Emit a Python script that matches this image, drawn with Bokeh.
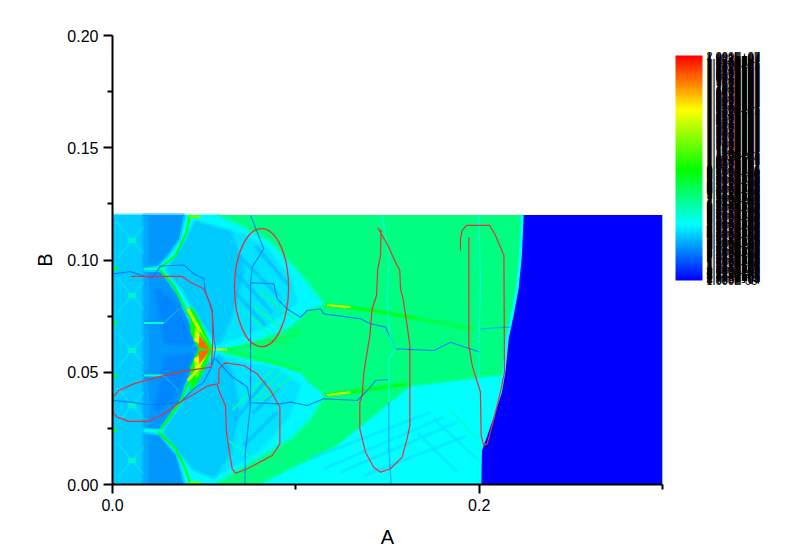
from bokeh.plotting import figure
from bokeh.models import ColumnDataSource, LinearColorMapper, ColorBar, FixedTicker, NumeralTickFormatter, AllLabels
from bokeh.transform import transform
from bokeh.embed import file_html
from bokeh.resources import INLINE

FONT = "Liberation Sans"

# ---- field regions: (level on the 0..1 colour scale, alpha, soft edge width, A values, B values)
base_A = [0, 0.3, 0.3, 0]
base_B = [0, 0, 0.12, 0.12]
wedge_A = [.0807, .1216, .1625, .2135, .21, .0807]
wedge_B = [0, .0165, .0434, .0486, 0, 0]
fan_A = [0, .0571, .0716, .0862, .1025, .1153, .1062, .1025, .0953, .0807, .0698, .0553, .0625, .088, .1025, .1062, .1153, .108, .0971, .0753, .0553, 0]
fan_B = [.12, .12, .1146, .1079, .0938, .0805, .078, .0745, .0693, .0649, .0619, .0601, .0575, .053, .0493, .0456, .0396, .0292, .0203, .0099, 0, 0]
strip_A = [0, .0171, .0171, 0]
strip_B = [0, 0, .12, .12]
lobe_up_A = [.0453, .0716, .0844, .0971, .1007, .0844, .0716, .058, .048, .0371, .0298, .0398]
lobe_up_B = [.1169, .1109, .105, .0916, .0812, .0708, .0664, .0627, .0738, .0886, .0953, .1079]
lobe_lo_A = [.058, .0735, .0898, .1025, .0953, .0789, .0553, .0444, .0353, .028, .0389, .048]
lobe_lo_B = [.0575, .0538, .0515, .0441, .0292, .0144, .0033, .007, .0159, .0233, .0367, .0515]
wash_up_A = [.0453, .0644, .0716, .0644, .058, .048, .0371, .0298, .0398]
wash_up_B = [.1169, .1125, .095, .0745, .0627, .0738, .0886, .0953, .1079]
wash_lo_A = [.048, .058, .0653, .0689, .0644, .0553, .0444, .0353, .028, .0389]
wash_lo_B = [.0515, .0575, .05, .033, .015, .0033, .007, .0159, .0233, .0367]
dark1_A = [.0171, .0389, .0362, .0298, .0244, .0171]
dark1_B = [.12, .12, .1094, .102, .0976, .0968]
dark2_A = [.0171, .0262, .0353, .0407, .0462, .048, .0462, .0398, .0371, .0253, .0171]
dark2_B = [.0946, .0946, .0842, .0738, .0634, .0601, .056, .0456, .0382, .0248, .0255]
dark3_A = [.0171, .0253, .0344, .0389, .0171]
dark3_B = [.0226, .0218, .0129, 0, 0]
deep_up_A = [.024, .033, .0385, .043, .029]
deep_up_B = [.087, .081, .0735, .0625, .0635]
deep_lo_A = [.029, .043, .0385, .033, .024]
deep_lo_B = [.0565, .0575, .0465, .039, .033]
gp1_A = [.0426, .0489, .0544, .047, .0425]
gp1_B = [.0797, .0708, .0601, .0601, .068]
gp2_A = [.0544, .047, .0425, .0426, .0489]
gp2_B = [.0601, .0601, .052, .0405, .0494]
y1_A = [.0458, .0535, .0447]
y1_B = [.0722, .0601, .0641]
y2_A = [.0458, .0535, .0447]
y2_B = [.048, .0601, .0561]
r1_A = [.0475, .0535, .0469]
r1_B = [.0664, .0601, .061]
r2_A = [.0475, .0535, .0469]
r2_B = [.0538, .0601, .0592]
edge_A = [.2235, .2225, .2207, .218, .2153, .2135, .2116, .2062, .2007, .2004, .3, .3]
edge_B = [.12, .102, .0872, .0753, .0649, .05, .0411, .0278, .0151, 0, 0, .12]

regions = [
    (.37, 1, 0, base_A, base_B),
    (.25, 1, 3, wedge_A, wedge_B),
    (.245, 1, 3, fan_A, fan_B),
    (.2, 1, 3, strip_A, strip_B),
    (.225, 1, 4, lobe_up_A, lobe_up_B),
    (.225, 1, 4, lobe_lo_A, lobe_lo_B),
    (.195, .8, 5, wash_up_A, wash_up_B),
    (.195, .8, 5, wash_lo_A, wash_lo_B),
    (.15, 1, 4, dark1_A, dark1_B),
    (.15, 1, 4, dark2_A, dark2_B),
    (.15, 1, 4, dark3_A, dark3_B),
    (.125, .7, 6, deep_up_A, deep_up_B),
    (.125, .7, 6, deep_lo_A, deep_lo_B),
    (.48, 1, 2, gp1_A, gp1_B),
    (.48, 1, 2, gp2_A, gp2_B),
    (.72, 1, 2, y1_A, y1_B),
    (.72, 1, 2, y2_A, y2_B),
    (.9, 1, 1, r1_A, r1_B),
    (.9, 1, 1, r2_A, r2_B),
    (0, 1, 0, edge_A, edge_B),
]

# ---- thin features of the field: (level, width, alpha, A, B)
features = [
    (.25, 3, 1, [.2235, .2225, .2207, .218, .2153, .2135, .2116, .2062, .2007, .2004], [.12, .102, .0872, .0753, .0649, .05, .0411, .0278, .0151, 0]),
    (.225, 3, .7, [.1153, .1807], [.007, .03]),
    (.225, 3, .7, [.1244, .188], [.0055, .0278]),
    (.225, 3, .7, [.108, .1735], [.0114, .0322]),
    (.225, 3, .7, [.1371, .1935], [.004, .0218]),
    (.225, 3, .7, [.1753, .1989], [.0292, .0114]),
    (.225, 3, .7, [.1662, .188], [.0233, .0055]),
    (.31, 2, .8, [.1844, .1989], [.033, .0203]),
    # transition between the left strip and the dark panels
    (.175, 6, .7, [.0178, .0182, .0178], [.12, .108, .0965]),
    (.175, 6, .7, [.0178, .0186, .0178], [.0945, .0842, .0735]),
    (.175, 6, .7, [.0178, .0186, .0178], [.0705, .0597, .05]),
    (.175, 6, .7, [.0178, .0186, .0178], [.047, .0352, .0258]),
    (.175, 6, .7, [.0178, .0182, .0178], [.0222, .011, 0]),
    # upper lobe bands
    (.18, 4, .6, [.0689, .0907], [.1019, .084]),
    (.18, 4, .6, [.0671, .0871], [.0944, .0766]),
    (.18, 4, .6, [.0671, .0835], [.0855, .0707]),
    (.18, 4, .6, [.078, .0962], [.1063, .0885]),
    (.34, 2, .9, [.0798, .1016], [.0863, .0722]),
    (.34, 2, .9, [.0762, .0944], [.0796, .0685]),
    (.34, 2, .9, [.0735, .0889], [.0766, .064]),
    (.42, 2, .9, [.0953, .103], [.0695, .068]),
    (.42, 2, .9, [.084, .0965], [.0645, .0625]),
    # lower lobe bands
    (.18, 4, .6, [.0671, .0835], [.0285, .0463]),
    (.18, 4, .6, [.0762, .0907], [.0315, .0433]),
    (.18, 4, .6, [.0716, .0898], [.0174, .0322]),
    (.34, 2, .9, [.0653, .088], [.033, .0515]),
    (.34, 2, .9, [.0753, .0926], [.0367, .05]),
    (.34, 2, .9, [.0798, .098], [.036, .0486]),
    (.31, 2, .9, [.0634, .0798], [.0196, .0092]),
    # lobe fringes
    (.32, 3, .7, [.0571, .0716, .0862, .1025, .1153], [.12, .1146, .1079, .0938, .0805]),
    (.32, 3, .7, [.1153, .108, .0971, .0753, .0553], [.0396, .0292, .0203, .0099, 0]),
    # beams
    (.46, 5, .45, [.1153, .1425, .1971], [.08, .0775, .0693]),
    (.46, 5, .45, [.1153, .1607], [.0399, .0448]),
    (.48, 2.5, .85, [.1171, .1425, .165], [.08, .0775, .074]),
    (.48, 2.5, .85, [.1171, .1425, .1607], [.0399, .0425, .0448]),
    (.72, 2, 1, [.1171, .1298], [.08, .079]),
    (.72, 2, 1, [.1171, .1298], [.0399, .0411]),
    (.44, 3, .5, [.0625, .1025], [.0601, .0671]),
    (.44, 3, .5, [.0625, .1025], [.0601, .051]),
    (.7, 2, 1, [.0535, .0625], [.0601, .0601]),
    # green boundary of the left panels
    (.49, 2, 1, [.0422, .0404, .0344, .0253], [.12, .1124, .102, .0961]),
    (.49, 2, 1, [.0253, .0335, .0407, .048, .0535, .048, .0416, .0371, .0253, .0344, .0398, .0425], [.0961, .0886, .0768, .0671, .0601, .0515, .0456, .0367, .0233, .0159, .007, 0]),
    (.7, 3, 1, [.0411, .048], [.0782, .0678]),
    (.7, 3, 1, [.0411, .048], [.0463, .0523]),
    (.6, 3, 1, [.0416, .048], [.1193, .1193]),
    (.6, 3, 1, [.0416, .048], [.0007, .0007]),
    # horizontal bands
    (.48, 3, 1, [0, .0025], [.0961, .0961]),
    (.48, 3, 1, [0, .0025], [.0719, .0719]),
    (.48, 3, 1, [0, .0025], [.0486, .0486]),
    (.48, 3, 1, [0, .0025], [.024, .024]),
    (.3, 2, 1, [.0171, .028], [.0961, .0961]),
    (.3, 2, 1, [.0171, .028], [.0719, .0719]),
    (.3, 2, 1, [.0171, .028], [.0486, .0486]),
    (.3, 2, 1, [.0171, .028], [.024, .024]),
    (.24, 1, .7, [.028, .036], [.0719, .078]),
    (.24, 1, .7, [.028, .036], [.0486, .042]),
    # star patterns in the left strip
    (.26, 2, .35, [.0025, .0107, .0025], [.1167, .1087, .1007]),
    (.26, 2, .35, [.0025, .0107, .0025], [.0922, .0842, .0762]),
    (.26, 2, .35, [.0025, .0107, .0025], [.0677, .0597, .0517]),
    (.26, 2, .35, [.0025, .0107, .0025], [.0432, .0352, .0272]),
    (.26, 2, .35, [.0025, .0107, .0025], [.0187, .0107, .0027]),
    (.26, 2, .3, [.0171, .0107, .0171], [.1147, .1087, .1027]),
    (.26, 2, .3, [.0171, .0107, .0171], [.0902, .0842, .0782]),
    (.26, 2, .3, [.0171, .0107, .0171], [.0657, .0597, .0537]),
    (.26, 2, .3, [.0171, .0107, .0171], [.0412, .0352, .0292]),
    (.26, 2, .3, [.0171, .0107, .0171], [.0167, .0107, .0047]),
    (.31, 5, .7, [.0085, .013], [.1087, .1087]),
    (.31, 5, .7, [.0085, .013], [.0842, .0842]),
    (.31, 5, .7, [.0085, .013], [.0597, .0597]),
    (.31, 5, .7, [.0085, .013], [.0352, .0352]),
    (.31, 5, .7, [.0085, .013], [.0107, .0107]),
]

# ---- interface traces in the field: (level, A, B)
trace1_A = [.0007, .0098, .0171, .0216, .0262, .0389, .0444, .0498, .0507, .0544, .0553, .0562, .0553, .0535, .0498, .0444, .0371, .028, .0189, .0098, .0007]
trace1_B = [.0938, .0949, .0928, .0919, .0973, .0978, .0938, .0916, .0857, .0782, .0649, .0612, .056, .0515, .0456, .0426, .0367, .0359, .0355, .0367, .0374]
trace2_A = [.0562, .0644, .0735, .0753, .0916, .0971, .1062, .1153, .1335, .1398, .1435, .1507]
trace2_B = [.056, .0486, .0434, .0364, .0359, .0367, .0352, .0382, .0374, .0426, .0463, .0468]
trace3_A = [.0753, .0825, .0762, .0753, .0753, .0725, .0722]
trace3_B = [.1198, .105, .0968, .0894, .0359, .0144, .0003]
trace4_A = [.0753, .088, .0898, .0953, .1025, .1062, .1135, .1153, .1353, .1407, .1489, .1544, .1753, .1844, .1953, .2007]
trace4_B = [.0898, .0894, .0827, .0782, .0745, .0775, .0782, .076, .0738, .0716, .0701, .0604, .0597, .0634, .0604, .0589]
trace5_A = [.1471, .1507, .1498, .1516, .1544, .1507, .1507]
trace5_B = [.1198, .102, .0797, .0649, .0604, .056, .0367]
trace6_A = [.1507, .1507, .152]
trace6_B = [.0367, .0159, .0003]
trace7_A = [.1998, .2007, .1998, .1998]
trace7_B = [.1198, .0894, .0649, .0003]
trace8_A = [.2007, .2098, .2171]
trace8_B = [.0693, .0698, .0701]
traces = [
    (.12, trace1_A, trace1_B), (.12, trace2_A, trace2_B), (.12, trace3_A, trace3_B),
    (.12, trace4_A, trace4_B), (.28, trace5_A, trace5_B), (.16, trace6_A, trace6_B),
    (.27, trace7_A, trace7_B), (.17, trace8_A, trace8_B),
]

# ---- hand-drawn red outlines
red1_A = [.0102, .038, .0425, .0498, .0525, .0544, .0547, .054, .0389, .0244, .0116, .0035, .0002, .0002, .0025, .0089, .0198, .028, .0371, .0462, .0516, .0571, .058]
red1_B = [.0927, .0927, .0901, .0872, .082, .0768, .0649, .0523, .0505, .0478, .0448, .0419, .0389, .0322, .03, .0281, .0281, .0315, .0367, .0411, .0438, .0448, .0419]
red2_A = [.058, .058, .0616, .0716, .0789, .0862, .0913, .0913, .0871, .0735, .0671, .0653, .0635, .0622, .0616, .058]
red2_B = [.0448, .0515, .0542, .053, .0493, .0419, .0344, .0181, .0129, .007, .005, .007, .0159, .0233, .0352, .0419]
red4_A = [.1465, .1462, .1447, .144, .1416, .1404, .1371, .1362, .1349, .1349, .138, .1425, .1462, .1516, .158, .1607, .1622, .1622, .1607, .1585, .1571, .1567, .1535, .1507, .1447]
red4_B = [.1136, .102, .0961, .0842, .0782, .0664, .05, .0396, .0367, .0248, .0144, .0077, .0055, .007, .0122, .0203, .0263, .0619, .0708, .0827, .0872, .0953, .1005, .1057, .1145]
red5_A = [.1898, .1898, .1907, .1931, .2058, .2089, .2135, .2138, .2116, .208, .2044, .2025, .2011, .2007, .1962, .1944, .1944]
red5_B = [.1042, .1094, .1131, .1154, .1154, .1109, .102, .05, .0411, .0292, .0181, .0174, .0218, .0411, .053, .0619, .1102]
red_ellipse = dict(x=[.0813], y=[.0877], width=[.0295], height=[.0526])

# ---- colour scale and ticks
scale_stops = [(0, (0, 0, 255)), (.25, (0, 255, 255)), (.49, (0, 255, 0)), (.76, (255, 255, 0)), (1, (255, 0, 0))]
scale_top = 2.0e7
scale_bottom = 1.0e-5
bar_label_count = 226


def palette(n=256):
    out = []
    for i in range(n):
        t = i / (n - 1)
        for (a, ca), (b, cb) in zip(scale_stops, scale_stops[1:]):
            if t <= b:
                f = (t - a) / (b - a)
                out.append("#%02x%02x%02x" % tuple(round(x + (y - x) * f) for x, y in zip(ca, cb)))
                break
    return out


mapper = LinearColorMapper(palette=palette(), low=0, high=1)

p = figure(width=790, height=550, x_range=(0, .3), y_range=(0, .2),
           output_backend="svg", toolbar_location=None,
           min_border_left=112, min_border_right=128, min_border_top=35, min_border_bottom=66)
p.grid.visible = False
p.outline_line_color = None

p.patches(xs="xs", ys="ys", fill_color=transform("v", mapper), fill_alpha="a",
          line_color=transform("v", mapper), line_width="w", line_alpha=.4,
          source=ColumnDataSource(dict(xs=[r[3] for r in regions], ys=[r[4] for r in regions],
                                       v=[r[0] for r in regions], a=[r[1] for r in regions],
                                       w=[r[2] for r in regions])))
p.multi_line(xs="xs", ys="ys", line_color=transform("v", mapper), line_width="w", line_alpha="a",
             source=ColumnDataSource(dict(xs=[f[3] for f in features], ys=[f[4] for f in features],
                                          v=[f[0] for f in features], w=[f[1] for f in features],
                                          a=[f[2] for f in features])))
p.multi_line(xs="xs", ys="ys", line_color=transform("v", mapper), line_width=1.1,
             source=ColumnDataSource(dict(xs=[t[1] for t in traces], ys=[t[2] for t in traces],
                                          v=[t[0] for t in traces])))
for xs, ys in [(red1_A, red1_B), (red2_A, red2_B), (red4_A, red4_B), (red5_A, red5_B)]:
    p.line(xs, ys, line_color="#e8303a", line_width=1.2)
p.ellipse(source=ColumnDataSource(red_ellipse), x="x", y="y", width="width", height="height",
          fill_color=None, line_color="#e8303a", line_width=1.3)

for ax in (p.xaxis[0], p.yaxis[0]):
    ax.axis_line_color = "black"
    ax.axis_line_width = 2
    ax.major_tick_line_color = "black"
    ax.major_tick_line_width = 2
    ax.minor_tick_line_color = "black"
    ax.minor_tick_line_width = 2
    ax.major_tick_in = 0
    ax.minor_tick_in = 0
    ax.major_tick_out = 9
    ax.minor_tick_out = 5
    ax.major_label_text_font = FONT
    ax.major_label_text_font_size = "16px"
    ax.major_label_text_color = "black"
    ax.axis_label_text_font = FONT
    ax.axis_label_text_font_size = "20px"
    ax.axis_label_text_font_style = "normal"
    ax.axis_label_text_color = "black"

p.xaxis.axis_label = "A"
p.xaxis.axis_label_standoff = 12
p.yaxis.axis_label = "B"
p.yaxis.axis_label_standoff = 8
p.xaxis.ticker = FixedTicker(ticks=[0, .2], minor_ticks=[.1, .3])
p.yaxis.ticker = FixedTicker(ticks=[0, .05, .1, .15, .2], minor_ticks=[.025, .075, .125, .175])
p.xaxis.formatter = NumeralTickFormatter(format="0.0")
p.yaxis.formatter = NumeralTickFormatter(format="0.00")

bar_ticks = [i / (bar_label_count - 1) for i in range(bar_label_count)]
bar_labels = {t: "%.3E" % (scale_bottom + t * (scale_top - scale_bottom)) for t in bar_ticks}
cb = ColorBar(color_mapper=mapper, width=27, height=225, location=(563, 204), padding=0,
              ticker=FixedTicker(ticks=bar_ticks), major_label_overrides=bar_labels,
              major_label_policy=AllLabels(),
              major_tick_line_color=None, minor_tick_line_color=None, bar_line_color=None,
              border_line_color=None, background_fill_color=None, label_standoff=4,
              major_label_text_font=FONT, major_label_text_font_size="11px", major_label_text_color="black")
p.add_layout(cb, "center")

open("out.html", "w").write(file_html(p, INLINE))
